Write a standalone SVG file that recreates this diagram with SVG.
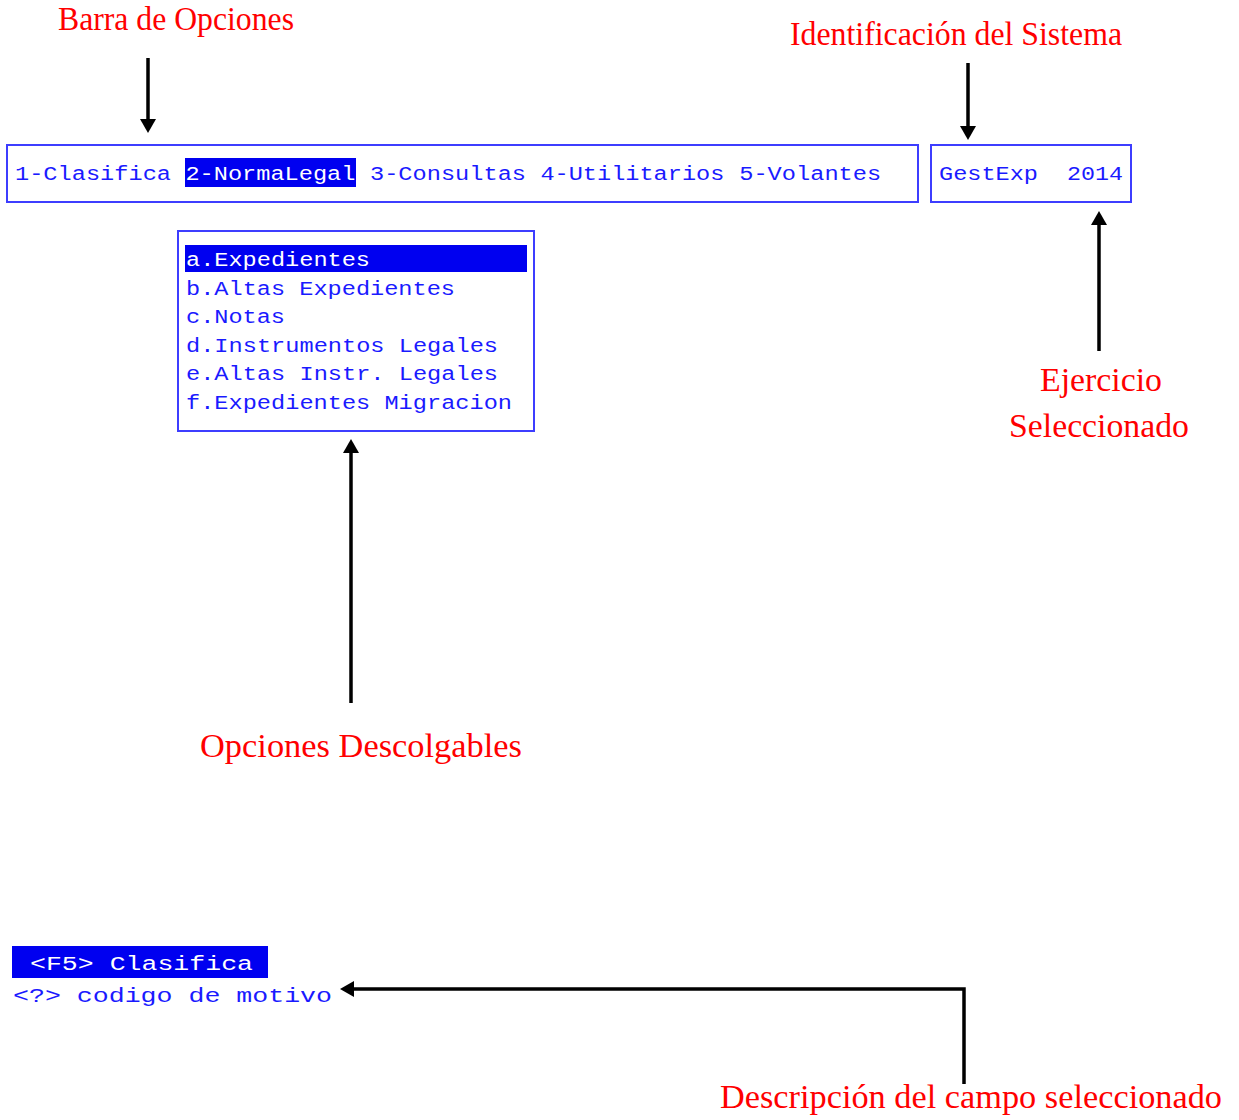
<svg xmlns="http://www.w3.org/2000/svg" width="1239" height="1120" viewBox="0 0 1239 1120">
<style>
.box{fill:#fff;stroke:#3d3dff;stroke-width:2}
.hl{fill:#0000f0}
.mono{font-family:"Liberation Mono","DejaVu Sans Mono",monospace;font-size:20px;fill:#1a1aff}
.inv{fill:#fff}
.lbl{font-family:"Liberation Serif","DejaVu Serif",serif;font-size:34px;fill:#ff0000}
.conn{fill:none;stroke:#000;stroke-width:3.5}
</style>
<defs>
<marker id="ah" viewBox="0 0 14 16" refX="0" refY="8" markerWidth="14" markerHeight="16" markerUnits="userSpaceOnUse" orient="auto">
<path d="M0,0 L14,8 L0,16 z" fill="#000"/>
</marker>
</defs>
<rect width="1239" height="1120" fill="#fff"/>

<g id="barra-opciones">
<rect class="box" x="7" y="145" width="911" height="57"/>
<rect class="hl" x="185" y="158" width="171" height="29"/>
<text class="mono" x="15" y="180" textLength="156" lengthAdjust="spacingAndGlyphs">1-Clasifica</text>
<text class="mono inv" x="185.4" y="180" textLength="170" lengthAdjust="spacingAndGlyphs">2-NormaLegal</text>
<text class="mono" x="370" y="180" textLength="156" lengthAdjust="spacingAndGlyphs">3-Consultas</text>
<text class="mono" x="540.4" y="180" textLength="184" lengthAdjust="spacingAndGlyphs">4-Utilitarios</text>
<text class="mono" x="739.2" y="180" textLength="142" lengthAdjust="spacingAndGlyphs">5-Volantes</text>
</g>

<g id="sistema">
<rect class="box" x="931" y="145" width="200" height="57"/>
<text class="mono" x="939" y="180" textLength="99" lengthAdjust="spacingAndGlyphs">GestExp</text>
<text class="mono" x="1067" y="180" textLength="56" lengthAdjust="spacingAndGlyphs">2014</text>
</g>

<g id="menu-descolgable">
<rect class="box" x="178" y="231" width="356" height="200"/>
<rect class="hl" x="185" y="245" width="342" height="27"/>
<text class="mono inv" x="186" y="266" textLength="184" lengthAdjust="spacingAndGlyphs">a.Expedientes</text>
<text class="mono" x="186" y="294.5" textLength="269" lengthAdjust="spacingAndGlyphs">b.Altas Expedientes</text>
<text class="mono" x="186" y="323" textLength="99" lengthAdjust="spacingAndGlyphs">c.Notas</text>
<text class="mono" x="186" y="351.5" textLength="312" lengthAdjust="spacingAndGlyphs">d.Instrumentos Legales</text>
<text class="mono" x="186" y="380" textLength="312" lengthAdjust="spacingAndGlyphs">e.Altas Instr. Legales</text>
<text class="mono" x="186" y="408.5" textLength="326" lengthAdjust="spacingAndGlyphs">f.Expedientes Migracion</text>
</g>

<g id="campo">
<rect class="hl" x="12" y="946" width="256" height="32"/>
<text class="mono inv" x="30" y="970" textLength="223" lengthAdjust="spacingAndGlyphs">&lt;F5&gt; Clasifica</text>
<text class="mono" x="13" y="1002" textLength="319" lengthAdjust="spacingAndGlyphs">&lt;?&gt; codigo de motivo</text>
</g>

<g id="etiquetas">
<text id="lbl-barra" class="lbl" x="58" y="30" textLength="236" lengthAdjust="spacingAndGlyphs" font-size="31">Barra de Opciones</text>
<text id="lbl-sistema" class="lbl" x="790" y="45" textLength="332" lengthAdjust="spacingAndGlyphs" font-size="31">Identificación del Sistema</text>
<text id="lbl-ejercicio1" class="lbl" x="1040" y="391" textLength="122" lengthAdjust="spacingAndGlyphs">Ejercicio</text>
<text id="lbl-ejercicio2" class="lbl" x="1009" y="437" textLength="180" lengthAdjust="spacingAndGlyphs">Seleccionado</text>
<text id="lbl-opciones" class="lbl" x="200" y="757" textLength="322" lengthAdjust="spacingAndGlyphs">Opciones Descolgables</text>
<text id="lbl-descripcion" class="lbl" x="720" y="1108" textLength="502" lengthAdjust="spacingAndGlyphs">Descripción del campo seleccionado</text>
</g>

<g id="conectores">
<path class="conn" d="M148,58 V119" marker-end="url(#ah)"/>
<path class="conn" d="M968,63 V126" marker-end="url(#ah)"/>
<path class="conn" d="M1099,351 V225" marker-end="url(#ah)"/>
<path class="conn" d="M351,703 V453" marker-end="url(#ah)"/>
<path class="conn" d="M964,1084 V989 H354" marker-end="url(#ah)"/>
</g>
</svg>
